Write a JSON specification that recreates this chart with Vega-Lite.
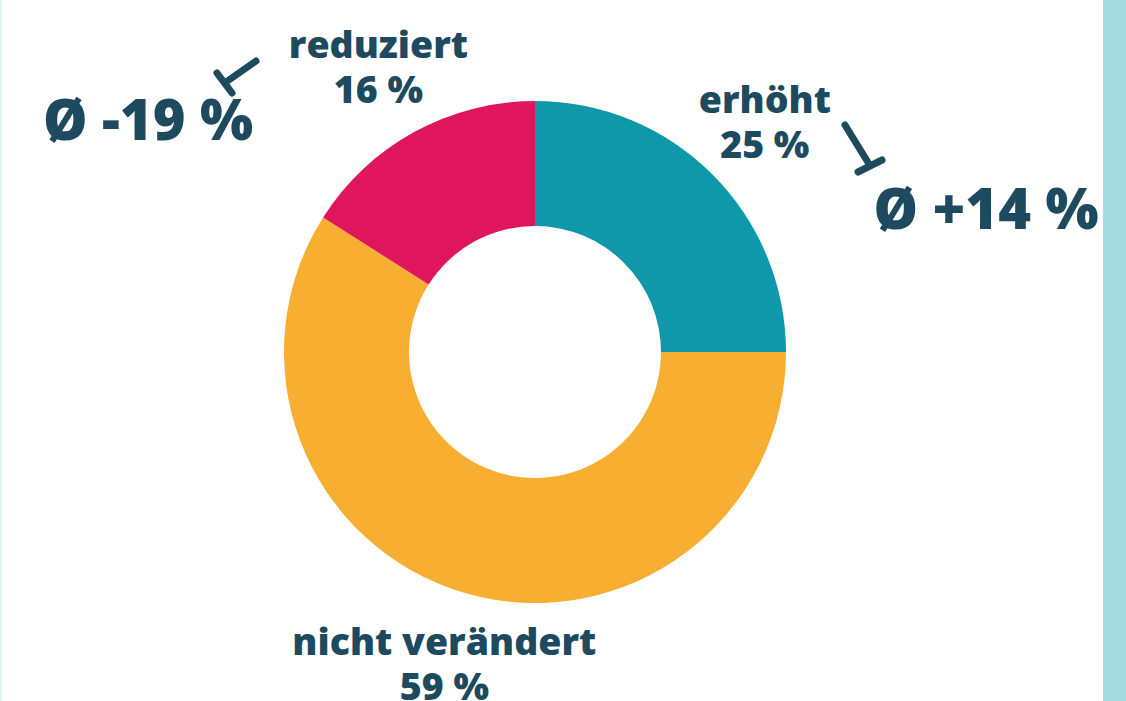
{
  "$schema": "https://vega.github.io/schema/vega-lite/v6.json",
  "autosize": {"type": "none"},
  "width": 1070,
  "height": 698,
  "padding": {"left": 0, "top": 3, "right": 56, "bottom": 0},
  "background": "white",
  "config": {"view": {"stroke": null}},
  "layer": [
    {
      "data": {"values": [
        {"part": "side bar", "x": 1103, "x2": 1126, "y": 0, "y2": 701}
      ]},
      "mark": {"type": "rect", "color": "#a4dbdf"},
      "encoding": {
        "x": {"field": "x", "type": "quantitative", "scale": {"domain": [0, 1070], "nice": false, "zero": false}, "axis": null},
        "x2": {"field": "x2"},
        "y": {"field": "y", "type": "quantitative", "scale": {"domain": [3, 701], "reverse": true, "nice": false, "zero": false}, "axis": null},
        "y2": {"field": "y2"}
      }
    },
    {
      "data": {"values": [
        {"part": "left edge", "x": 0, "x2": 2, "y": 0, "y2": 701}
      ]},
      "mark": {"type": "rect", "color": "#e4f4f6"},
      "encoding": {
        "x": {"field": "x", "type": "quantitative"},
        "x2": {"field": "x2"},
        "y": {"field": "y", "type": "quantitative"},
        "y2": {"field": "y2"}
      }
    },
    {
      "data": {"name": "donut", "values": [
        {"cat": "erhöht", "pct": 25, "label": "erhöht\n25 %"},
        {"cat": "nicht verändert", "pct": 59, "label": "nicht verändert\n59 %"},
        {"cat": "reduziert", "pct": 16, "label": "reduziert\n16 %"}
      ]},
      "layer": [
        {
          "mark": {"type": "arc", "outerRadius": 251, "innerRadius": 126},
          "encoding": {
            "theta": {"field": "pct", "type": "quantitative", "stack": true},
            "color": {"field": "cat", "type": "nominal", "scale": {"domain": ["erhöht", "nicht verändert", "reduziert"], "range": ["#0e98a9", "#f8ae31", "#e0165d"]}, "legend": null}
          }
        },
        {
          "mark": {"type": "text", "radius": 325, "dy": -20, "font": "Open Sans", "fontWeight": 800, "fontSize": 37.5, "lineBreak": "\n", "lineHeight": 45, "align": "center", "baseline": "middle", "color": "#1e4a5f"},
          "encoding": {
            "theta": {"field": "pct", "type": "quantitative", "stack": true},
            "detail": {"field": "cat", "type": "nominal"},
            "text": {"field": "label", "type": "nominal"}
          }
        }
      ]
    },
    {
      "data": {"values": [
        {"x": 256, "y": 61, "x2": 226, "y2": 82},
        {"x": 217, "y": 73, "x2": 232, "y2": 93},
        {"x": 845, "y": 125, "x2": 869, "y2": 164},
        {"x": 858, "y": 172, "x2": 882, "y2": 160}
      ]},
      "mark": {"type": "rule", "strokeWidth": 7, "strokeCap": "round", "color": "#1e4a5f"},
      "encoding": {
        "x": {"field": "x", "type": "quantitative"},
        "y": {"field": "y", "type": "quantitative"},
        "x2": {"field": "x2"},
        "y2": {"field": "y2"}
      }
    },
    {
      "data": {"values": [
        {"text": "Ø -19 %", "x": 148, "y": 140},
        {"text": "Ø +14 %", "x": 986, "y": 229}
      ]},
      "mark": {"type": "text", "font": "Open Sans", "fontWeight": 800, "fontSize": 56, "align": "center", "baseline": "alphabetic", "color": "#1e4a5f"},
      "encoding": {
        "x": {"field": "x", "type": "quantitative"},
        "y": {"field": "y", "type": "quantitative"},
        "text": {"field": "text", "type": "nominal"}
      }
    }
  ]
}
